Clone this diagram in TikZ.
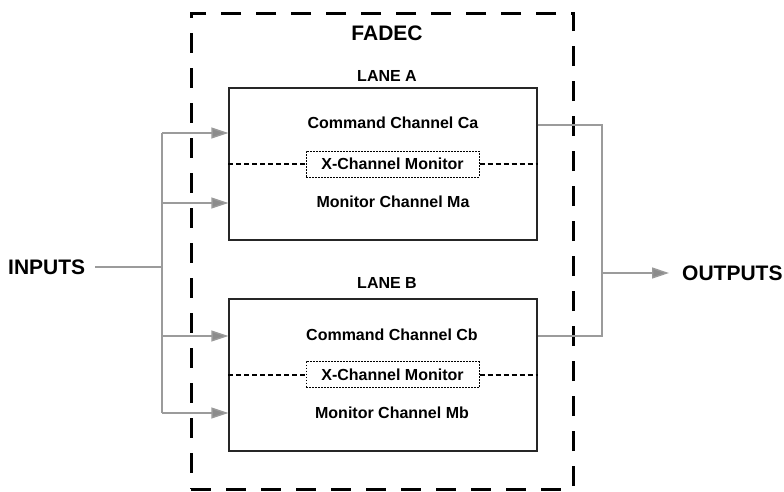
\documentclass[tikz,border=0pt]{standalone}
\usepackage{fontspec}
\setmainfont{Liberation Sans}
\usetikzlibrary{arrows.meta}
\definecolor{wire}{RGB}{155,155,155}
\definecolor{wirehead}{RGB}{140,140,140}
\begin{document}
\begin{tikzpicture}[x=1pt,y=-1pt,
  every node/.style={font=\bfseries\fontsize{16}{19}\selectfont,inner sep=0pt},
  big/.style={font=\bfseries\fontsize{21}{25}\selectfont},
  lanebox/.style={draw=black!85,line width=1.3pt,minimum width=308pt,minimum height=152pt},
  outerbox/.style={draw=black,line width=3pt,dash pattern=on 20pt off 15pt,minimum width=382pt,minimum height=476pt},
  xmon/.style={draw=black,line width=1pt,dash pattern=on 1.6pt off 1.4pt,minimum width=173pt,minimum height=26pt},
  xline/.style={draw=black,line width=2pt,dash pattern=on 5pt off 3pt},
  wireline/.style={draw=wire,line width=1.4pt},
  feed/.style={wireline,-{Triangle[length=17pt,width=11pt,fill=wirehead]}}
]
\useasboundingbox (0,0) rectangle (784,491);

% outer FADEC boundary
\node[outerbox] (fadec) at (382,251) {};
\node[big] (fadectitle) at (387,33) {FADEC};

% lanes
\node[lanebox] (laneA) at (383,164) {};
\node[lanebox] (laneB) at (383,375) {};
\node (titleA) at (387,76) {LANE A};
\node (titleB) at (387,283) {LANE B};

\node (ca) at (393,123) {Command Channel Ca};
\node (ma) at (393,202) {Monitor Channel Ma};
\node (cb) at (392,335) {Command Channel Cb};
\node (mb) at (392,413) {Monitor Channel Mb};

\node[xmon] (xa) at (392.5,164) {X-Channel Monitor};
\node[xmon] (xb) at (392.5,374.5) {X-Channel Monitor};

\draw[xline] (laneA.west |- xa.west) -- (xa.west);
\draw[xline] (xa.east) -- (laneA.east |- xa.east);
\draw[xline] (laneB.west |- xb.west) -- (xb.west);
\draw[xline] (xb.east) -- (laneB.east |- xb.east);

% inputs
\node[big,anchor=west] (in) at (8,267) {INPUTS};
\coordinate (bus) at (162,267);
\coordinate (b1) at (162,133);
\coordinate (b2) at (162,203);
\coordinate (b3) at (162,336);
\coordinate (b4) at (162,413);
\draw[wireline,shorten <=10pt] (in.east) -- (bus);
\draw[wireline] (b1) -- (b4);
\draw[feed] (b1) -- (laneA.west |- b1);
\draw[feed] (b2) -- (laneA.west |- b2);
\draw[feed] (b3) -- (laneB.west |- b3);
\draw[feed] (b4) -- (laneB.west |- b4);

% outputs
\node[big,anchor=west] (out) at (682,273) {OUTPUTS};
\coordinate (ra) at (602,125);
\coordinate (rb) at (602,336);
\coordinate (rm) at (602,273);
\draw[wireline] (laneA.east |- ra) -- (ra) -- (rb) -- (laneB.east |- rb);
\draw[feed,shorten >=13pt] (rm) -- (out.west);
\end{tikzpicture}
\end{document}
